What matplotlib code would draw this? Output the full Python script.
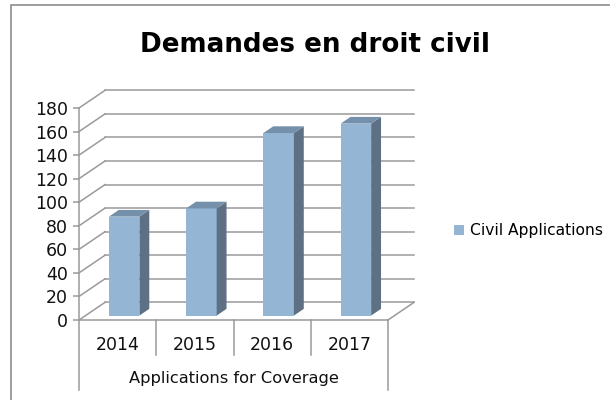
import matplotlib.pyplot as plt
from matplotlib.patches import Polygon, Rectangle

# data
years = ['2014', '2015', '2016', '2017']
civil_applications = [84, 91, 155, 163]
y_ticks = list(range(0, 181, 20))
series_name = 'Civil Applications'
group_label = 'Applications for Coverage'
title = 'Demandes en droit civil'

plt.rcParams['font.family'] = ['DejaVu Sans']

front_c = '#94B5D3'
side_c = '#5E7184'
top_c = '#7590AA'
grid_c = '#9A9A9A'

# oblique depth vector (category units, value units)
Dx, Dy = 0.337, 15.0
f0, f1 = 0.25, 0.63   # bar front / back depth fractions
w = 0.395

fig = plt.figure(figsize=(6.1, 4), dpi=100)
ax = fig.add_axes([79 / 610, 0.2, 309 / 610, 212 / 400])
ax.set_xlim(0, 4)
ax.set_ylim(0, 180)

# walls and floor
n = len(years)
for v in y_ticks:
    ax.plot([Dx, n + Dx], [v + Dy, v + Dy], color=grid_c, lw=1.1, clip_on=False, zorder=1)
    ax.plot([0, Dx], [v, v + Dy], color=grid_c, lw=1.1, clip_on=False, zorder=1)
ax.plot([0, n], [0, 0], color=grid_c, lw=1.1, clip_on=False, zorder=1)
ax.plot([n, n + Dx], [0, Dy], color=grid_c, lw=1.1, clip_on=False, zorder=1)

# category separators below the floor
for i in range(n + 1):
    low = -59.4 if i in (0, n) else -29.7
    ax.plot([i, i], [0, low], color=grid_c, lw=1.1, clip_on=False, zorder=1)

# bars
centers = [i + 0.5 for i in range(n)]
ax.bar([c + f0 * Dx for c in centers], civil_applications, width=w,
       bottom=f0 * Dy, color=front_c, zorder=3, label=series_name)
ddx, ddy = (f1 - f0) * Dx, (f1 - f0) * Dy
for c, v in zip(centers, civil_applications):
    xl = c - w / 2 + f0 * Dx
    xr = xl + w
    yb = f0 * Dy
    yt = yb + v
    ax.add_patch(Polygon([(xr, yb), (xr + ddx, yb + ddy), (xr + ddx, yt + ddy), (xr, yt)],
                         closed=True, facecolor=side_c, edgecolor='none', zorder=3, clip_on=False))
    ax.add_patch(Polygon([(xl, yt), (xr, yt), (xr + ddx, yt + ddy), (xl + ddx, yt + ddy)],
                         closed=True, facecolor=top_c, edgecolor='none', zorder=3, clip_on=False))

# category labels
for c, yr in zip(centers, years):
    ax.text(c, -25.5, yr, ha='center', va='baseline', fontsize=12.5, color='#111111')
ax.text(n / 2, -53.7, group_label, ha='center', va='baseline', fontsize=11.7, color='#111111')

# y axis
for s in ['top', 'right', 'bottom']:
    ax.spines[s].set_visible(False)
ax.spines['left'].set_color(grid_c)
ax.spines['left'].set_linewidth(1.1)
ax.set_yticks(y_ticks)
ax.tick_params(axis='y', length=4, color=grid_c, width=1.1, labelsize=12.5,
               pad=4, labelcolor='#111111')
ax.set_xticks([])
ax.patch.set_visible(False)

fig.text(315 / 610, 1 - 52.3 / 400, title, ha='center', va='baseline',
         fontsize=18.8, fontweight='bold', color='black')

fig.legend(loc='center left', bbox_to_anchor=(454 / 610, 1 - 231 / 400), frameon=False,
           handlelength=0.65, handleheight=0.65, handletextpad=0.4, borderpad=0,
           borderaxespad=0, fontsize=11.2)

fig.patches.append(Rectangle((10.5 / 610, -0.1), 1.0, 1.1 - 5.5 / 400, transform=fig.transFigure,
                             fill=False, edgecolor='#8C8C8C', lw=1.2))

fig.savefig('out.png', dpi=100)
